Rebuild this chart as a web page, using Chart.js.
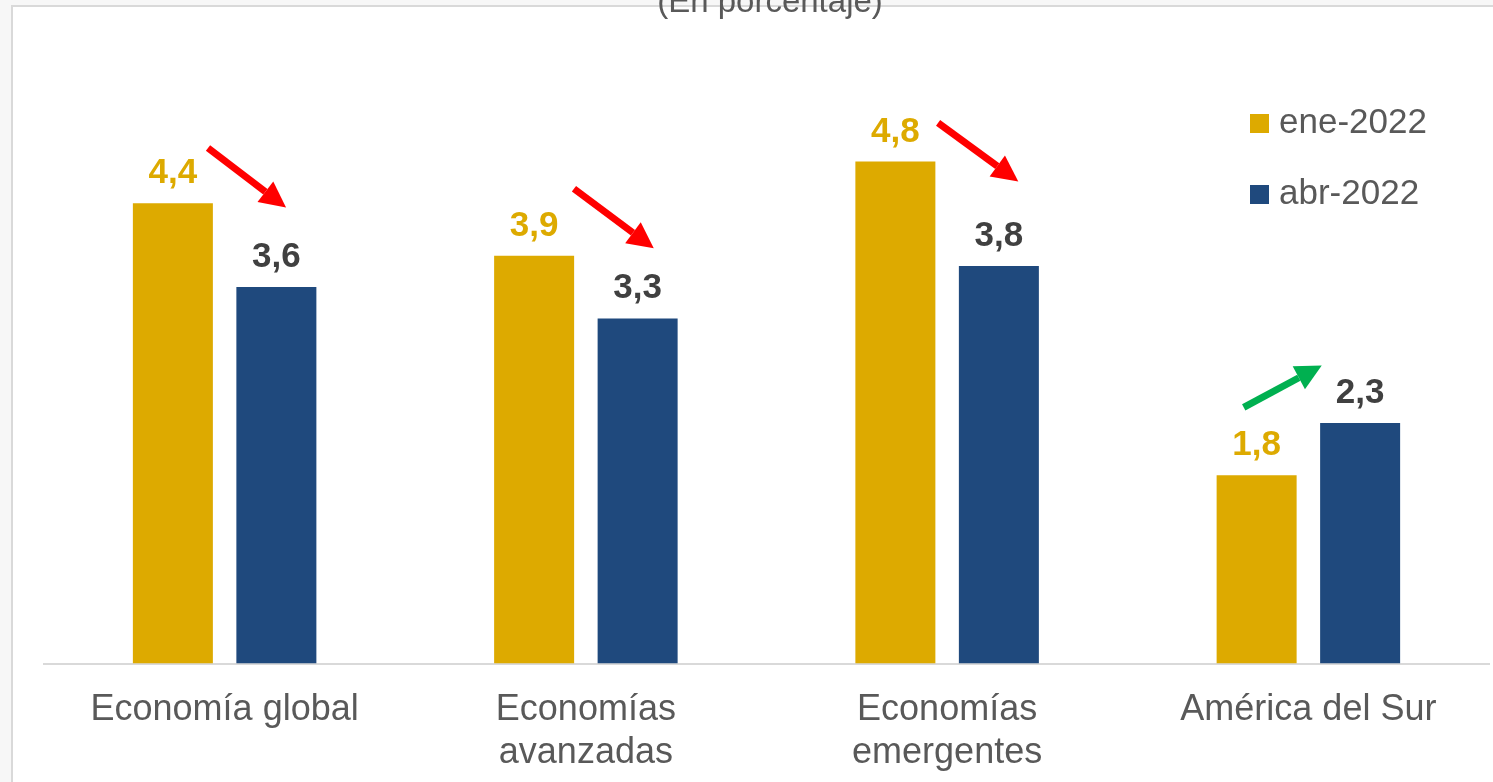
<!DOCTYPE html>
<html>
<head>
<meta charset="utf-8">
<script src="https://cdn.jsdelivr.net/npm/chart.js@4.4.1/dist/chart.umd.min.js"></script>
<style>
    html, body { margin: 0; padding: 0; background: #f7f7f7; overflow: hidden; }
    #frame {
        position: absolute; left: 11px; top: 5px; width: 1500px; height: 800px;
        background: #ffffff; border-left: 2px solid #d9d9d9; border-top: 2px solid #d9d9d9;
    }
    #wrap { position: absolute; left: 0; top: 0; width: 1493px; height: 782px; overflow: hidden; }
</style>
</head>
<body>
<div id="frame"></div>
<div id="wrap"><canvas id="growthChart" width="1493" height="810"></canvas></div>
<script>
const categories = [['Economía global'], ['Economías', 'avanzadas'], ['Economías', 'emergentes'], ['América del Sur']];
const seriesNames = ['ene-2022', 'abr-2022'];
const eneValues = [4.4, 3.9, 4.8, 1.8];
const abrValues = [3.6, 3.3, 3.8, 2.3];

// arrows in data space: [category offset start, value start, category offset end, value end]
const arrowsDown = [
    [-0.046, 4.93, 0.170, 4.36],
    [0.967, 4.54, 1.188, 3.97],
    [1.975, 5.17, 2.197, 4.61]
];
const arrowsUp = [
    [2.821, 2.45, 3.037, 2.85]
];

const YELLOW = '#DDAA00';
const BLUE = '#1F497D';
const FONT = '"Liberation Sans", Arial, sans-serif';

function drawArrow(ctx, x1, y1, x2, y2, color) {
    const ang = Math.atan2(y2 - y1, x2 - x1);
    const headLen = 26, headHalf = 13;
    const bx = x2 - headLen * Math.cos(ang);
    const by = y2 - headLen * Math.sin(ang);
    ctx.save();
    ctx.strokeStyle = color;
    ctx.fillStyle = color;
    ctx.lineWidth = 7;
    ctx.beginPath();
    ctx.moveTo(x1, y1);
    ctx.lineTo(bx, by);
    ctx.stroke();
    ctx.beginPath();
    ctx.moveTo(x2, y2);
    ctx.lineTo(bx + headHalf * Math.sin(ang), by - headHalf * Math.cos(ang));
    ctx.lineTo(bx - headHalf * Math.sin(ang), by + headHalf * Math.cos(ang));
    ctx.closePath();
    ctx.fill();
    ctx.restore();
}

const extras = {
    id: 'extras',
    afterDatasetsDraw(chart) {
        const ctx = chart.ctx;
        const xs = chart.scales.x, ys = chart.scales.y;

        // value labels
        const labelColors = [YELLOW, '#404040'];
        chart.data.datasets.forEach((ds, di) => {
            chart.getDatasetMeta(di).data.forEach((bar, i) => {
                ctx.save();
                ctx.font = 'bold 35px ' + FONT;
                ctx.fillStyle = labelColors[di];
                ctx.textAlign = 'center';
                ctx.textBaseline = 'alphabetic';
                ctx.fillText(ds.data[i].toFixed(1).replace('.', ','), bar.x, bar.y - 20);
                ctx.restore();
            });
        });

        // arrows
        arrowsDown.forEach(a => drawArrow(ctx, xs.getPixelForValue(a[0]), ys.getPixelForValue(a[1]),
            xs.getPixelForValue(a[2]), ys.getPixelForValue(a[3]), '#FF0000'));
        arrowsUp.forEach(a => drawArrow(ctx, xs.getPixelForValue(a[0]), ys.getPixelForValue(a[1]),
            xs.getPixelForValue(a[2]), ys.getPixelForValue(a[3]), '#00B050'));

        // legend
        chart.data.datasets.forEach((ds, di) => {
            const top = 114 + di * 71;
            ctx.save();
            ctx.fillStyle = ds.backgroundColor;
            ctx.fillRect(1250, top, 19, 19);
            ctx.font = '35px ' + FONT;
            ctx.fillStyle = '#595959';
            ctx.textBaseline = 'alphabetic';
            ctx.fillText(ds.label, 1279, top + 19);
            ctx.restore();
        });

        // title (cut at top like the source)
        ctx.save();
        ctx.font = '33px ' + FONT;
        ctx.fillStyle = '#595959';
        ctx.textAlign = 'center';
        ctx.fillText('(En porcentaje)', 770, 12);
        ctx.restore();
    }
};

new Chart(document.getElementById('growthChart').getContext('2d'), {
    type: 'bar',
    data: {
        labels: categories,
        datasets: [
            { label: seriesNames[0], data: eneValues, backgroundColor: YELLOW },
            { label: seriesNames[1], data: abrValues, backgroundColor: BLUE }
        ]
    },
    options: {
        responsive: false,
        animation: false,
        devicePixelRatio: 1,
        categoryPercentage: 0.573,
        barPercentage: 0.773,
        layout: { padding: { left: 44, right: 4, top: 36, bottom: 10 } },
        plugins: {
            legend: { display: false },
            tooltip: { enabled: false }
        },
        scales: {
            y: { display: false, min: 0, max: 6 },
            x: {
                grid: { display: false, drawTicks: false },
                border: { display: true, color: '#D9D9D9', width: 2 },
                ticks: {
                    color: '#595959',
                    font: { family: FONT, size: 36 },
                    padding: 25,
                    maxRotation: 0,
                    autoSkip: false
                }
            }
        }
    },
    plugins: [extras]
});
</script>
</body>
</html>
